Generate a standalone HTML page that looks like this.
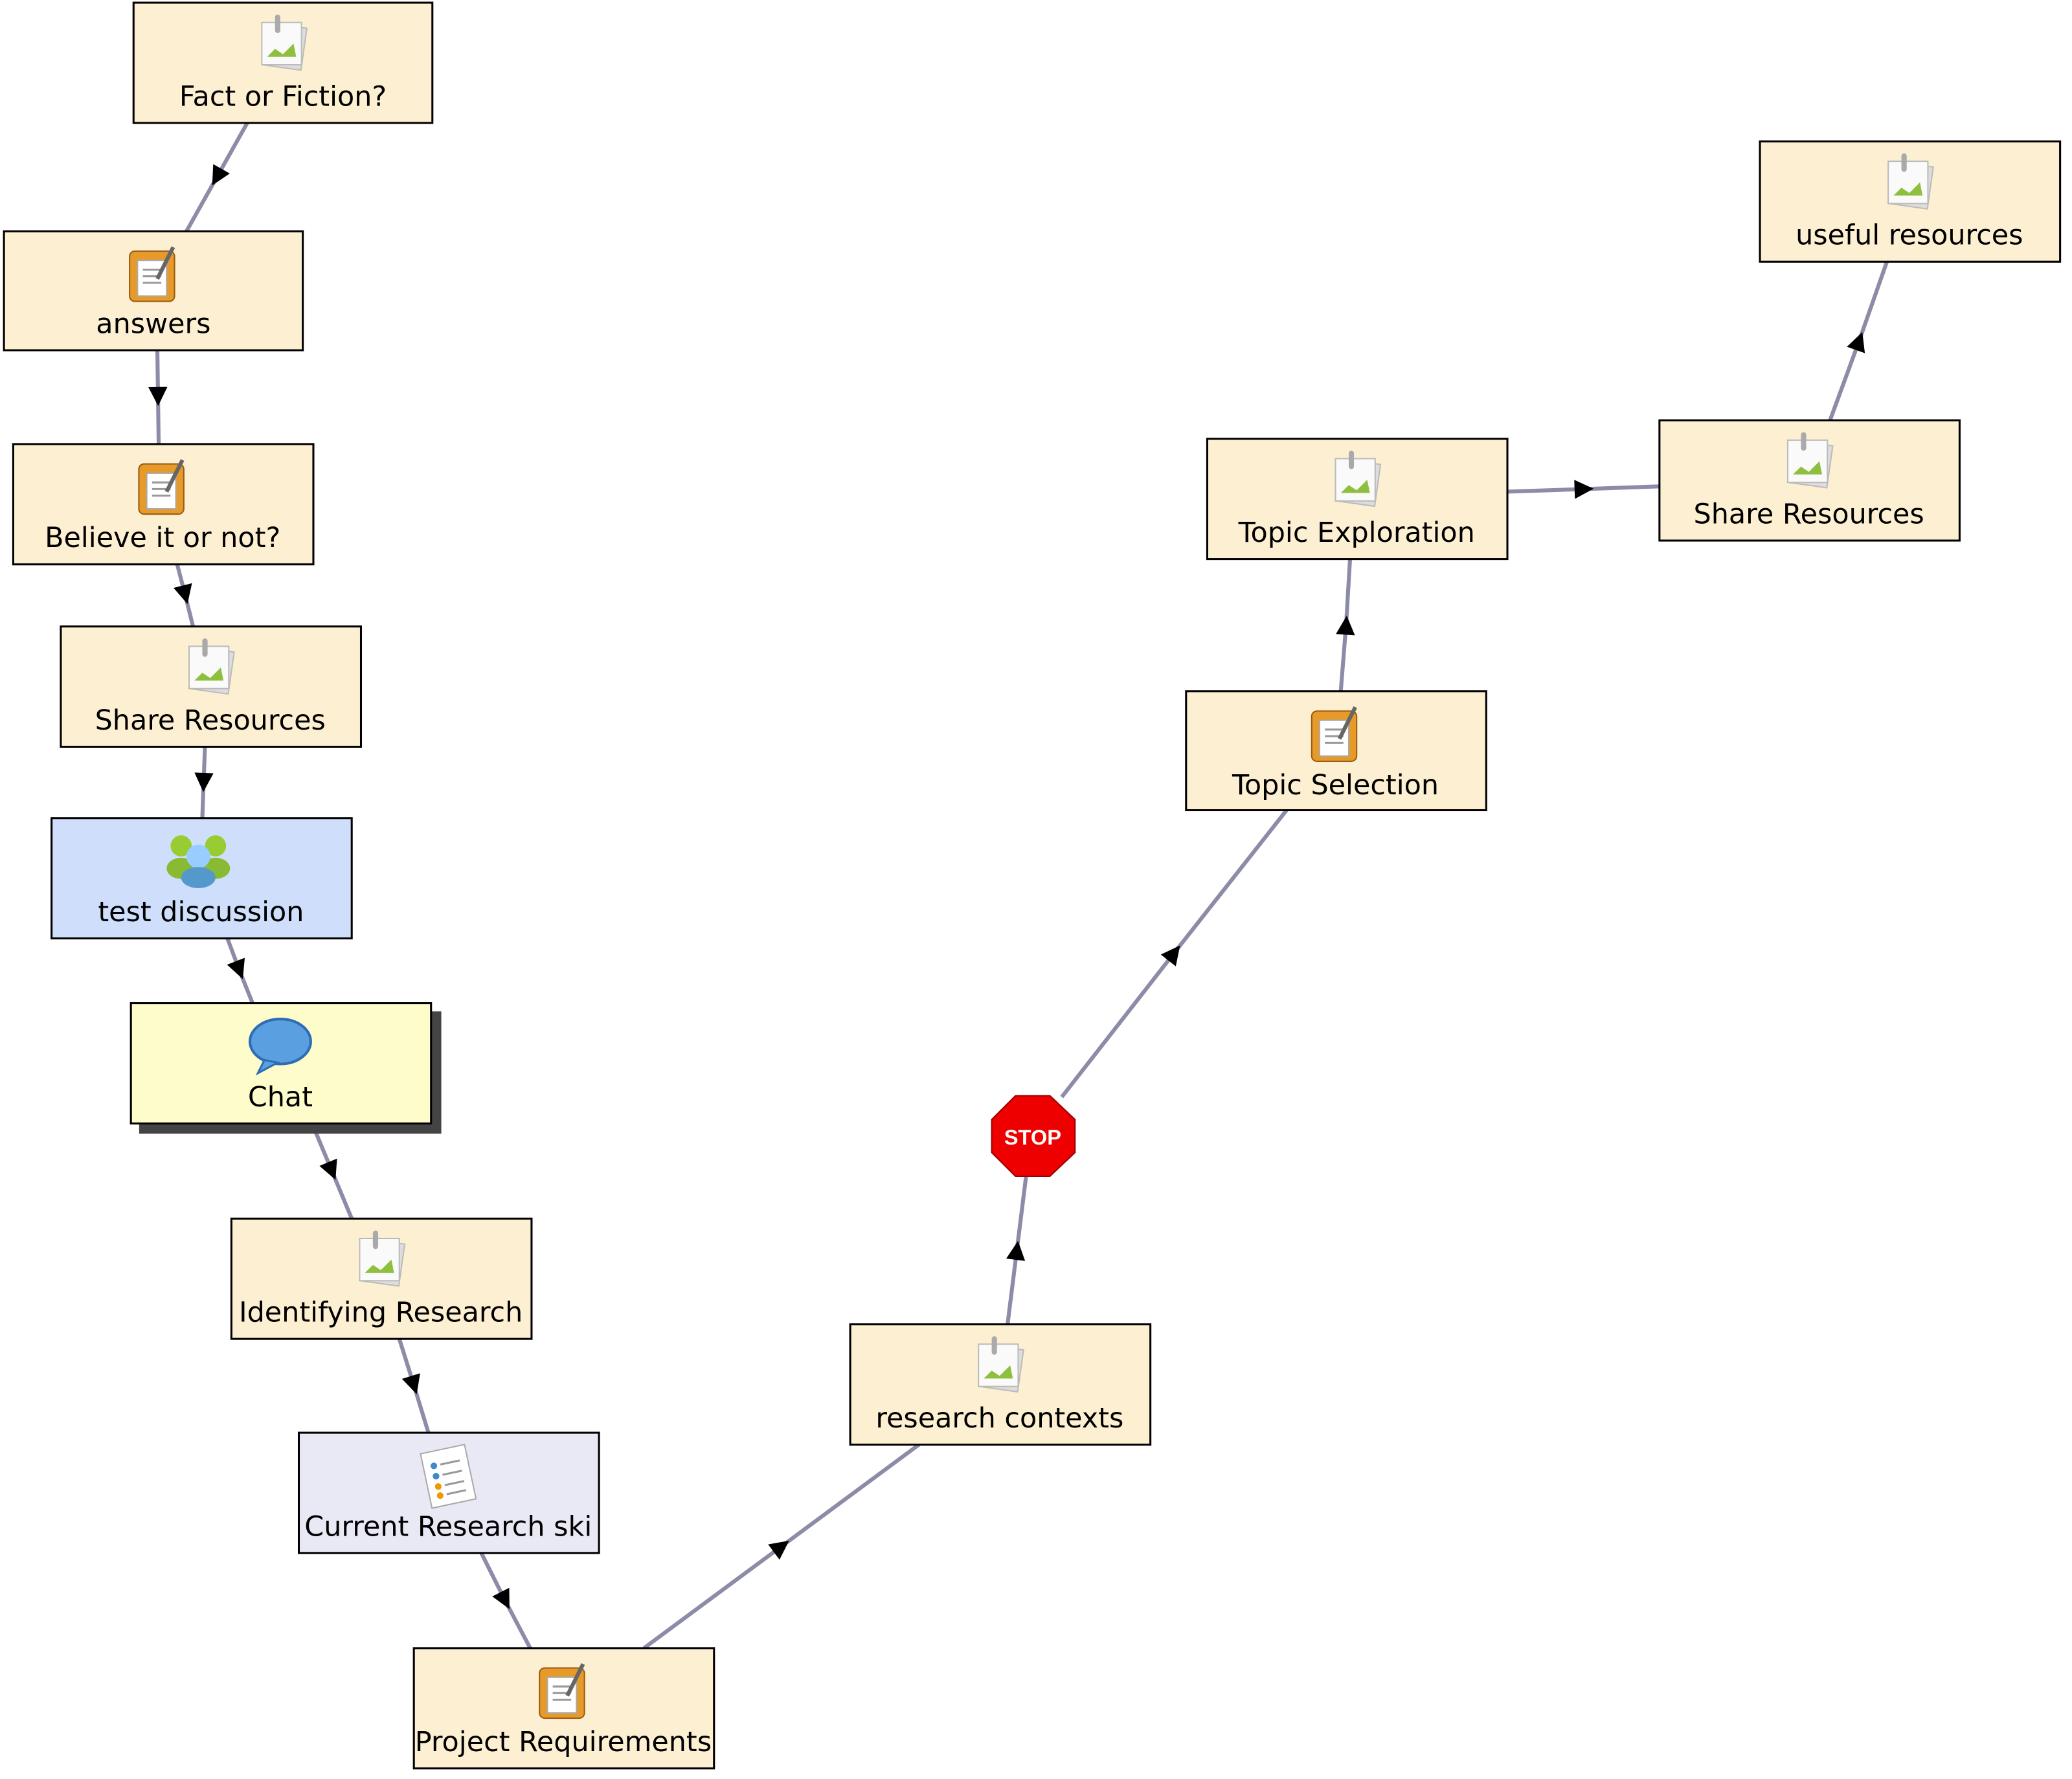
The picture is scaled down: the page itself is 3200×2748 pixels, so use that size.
<!DOCTYPE html>
<html><head><meta charset="utf-8"><style>
html,body{margin:0;padding:0;background:#fff;width:3200px;height:2748px;overflow:hidden}
svg{display:block}
text{font-family:"DejaVu Sans","Liberation Sans",sans-serif;font-size:21px;fill:#000;text-anchor:middle}
</style></head><body>
<svg width="3200" height="2748" viewBox="0 0 1567 1346" preserveAspectRatio="none" xmlns="http://www.w3.org/2000/svg">
<defs>
<marker id="ar" viewBox="0 0 20 20" refX="10" refY="10" markerWidth="18" markerHeight="18" markerUnits="userSpaceOnUse" orient="auto">
<path d="M2,2 L18,10 L2,18 Z" fill="#000"/>
</marker>
<g id="img">
<rect x="-14" y="-16" width="30" height="32" fill="#ddd" stroke="#bbb" transform="rotate(8)"/>
<rect x="-16" y="-18" width="30" height="32" fill="#fafafa" stroke="#bbb"/>
<path d="M-12,8 L-6,2 L0,6 L8,-2 L10,8 Z" fill="#8fbf3f"/>
<rect x="-6" y="-24" width="4" height="14" rx="2" fill="#aaa"/>
</g>
<g id="note">
<rect x="-17" y="-19" width="34" height="38" rx="4" fill="#e59a2a" stroke="#9a5a10"/>
<rect x="-11" y="-12" width="22" height="27" fill="#fff" stroke="#aaa"/>
<path d="M-7,-5 H7 M-7,0 H7 M-7,5 H7" stroke="#999" stroke-width="1.5"/>
<path d="M4,2 L16,-22" stroke="#666" stroke-width="3"/>
</g>
</defs>
<g fill="none" stroke="#8c8ca8" stroke-width="3" marker-mid="url(#ar)">
<path d="M187,93 L164,134 L141,175"/>
<path d="M119,265 L119.5,300 L120,336"/>
<path d="M134,427 L140,450 L146,474"/>
<path d="M155,565 L154,592 L153,619"/>
<path d="M172,710 L181,734 L191,759"/>
<path d="M236,850 L251,886 L266,922"/>
<path d="M302,1013 L313,1048 L324,1084"/>
<path d="M364,1175 L382,1211 L401,1247"/>
<path d="M487,1247 L591,1170 L695,1093"/>
<path d="M762,1002 L769,946 L776,890"/>
<path d="M803,830 L888,721 L973,613"/>
<path d="M1014,523 L1018,473 L1021,423"/>
<path d="M1140,372 L1198,370 L1255,368"/>
<path d="M1384,318 L1406,258 L1427,198"/>
</g>
<g stroke="#000" stroke-width="1.5">
<rect x="101" y="2" width="226" height="91" fill="#fdf0d2"/>
<rect x="3" y="175" width="226" height="90" fill="#fdf0d2"/>
<rect x="10" y="336" width="227" height="91" fill="#fdf0d2"/>
<rect x="46" y="474" width="227" height="91" fill="#fdf0d2"/>
<rect x="39" y="619" width="227" height="91" fill="#cfdffb"/>
<rect x="106" y="766" width="227" height="91" fill="#444" stroke="#444"/>
<rect x="99" y="759" width="227" height="91" fill="#fffccc"/>
<rect x="175" y="922" width="227" height="91" fill="#fdf0d2"/>
<rect x="226" y="1084" width="227" height="91" fill="#e9e8f5"/>
<rect x="313" y="1247" width="227" height="91" fill="#fdf0d2"/>
<rect x="643" y="1002" width="227" height="91" fill="#fdf0d2"/>
<rect x="897" y="523" width="227" height="90" fill="#fdf0d2"/>
<rect x="913" y="332" width="227" height="91" fill="#fdf0d2"/>
<rect x="1255" y="318" width="227" height="91" fill="#fdf0d2"/>
<rect x="1331" y="107" width="227" height="91" fill="#fdf0d2"/>
</g>
<use href="#img" x="214" y="35"/>
<use href="#note" x="115" y="209"/>
<use href="#note" x="122" y="370"/>
<use href="#img" x="159" y="507"/>
<use href="#img" x="288" y="955"/>
<use href="#note" x="425" y="1281"/>
<use href="#img" x="756" y="1035"/>
<use href="#note" x="1009" y="557"/>
<use href="#img" x="1026" y="365"/>
<use href="#img" x="1368" y="351"/>
<use href="#img" x="1444" y="140"/>
<g>
<circle cx="137" cy="640" r="8" fill="#9c3"/><circle cx="163" cy="640" r="8" fill="#9c3"/>
<ellipse cx="137" cy="657" rx="11" ry="8" fill="#8b3"/><ellipse cx="163" cy="657" rx="11" ry="8" fill="#8b3"/>
<circle cx="150" cy="648" r="9" fill="#9cf"/><ellipse cx="150" cy="664" rx="13" ry="8" fill="#59c"/>
</g>
<ellipse cx="212" cy="788" rx="23" ry="17" fill="#5a9fe0" stroke="#2c6db5" stroke-width="2"/>
<path d="M200,802 L195,812 L210,804 Z" fill="#5a9fe0" stroke="#2c6db5" stroke-width="1.5"/>
<g transform="translate(339,1117) rotate(-12)">
<rect x="-17" y="-21" width="34" height="42" fill="#fff" stroke="#aaa"/>
<circle cx="-9" cy="-10" r="2.5" fill="#48c"/><circle cx="-9" cy="-2" r="2.5" fill="#48c"/><circle cx="-9" cy="6" r="2.5" fill="#e90"/><circle cx="-9" cy="13" r="2.5" fill="#e90"/>
<path d="M-4,-10 H11 M-4,-2 H11 M-4,6 H11 M-4,13 H11" stroke="#999" stroke-width="1.5"/>
</g>
<polygon points="768,829 794,829 813,847 813,872 794,890 768,890 750,872 750,847" fill="#e00" stroke="#900" stroke-width="1"/>
<text x="781" y="866" style="font-size:16px;font-weight:bold;fill:#fff;font-family:'Liberation Sans',sans-serif">STOP</text>
<text x="214" y="80">Fact or Fiction?</text>
<text x="116" y="252">answers</text>
<text x="123" y="414">Believe it or not?</text>
<text x="159" y="552">Share Resources</text>
<text x="152" y="697">test discussion</text>
<text x="212" y="837">Chat</text>
<text x="288" y="1000">Identifying Research</text>
<text x="339" y="1162">Current Research ski</text>
<text x="426" y="1325">Project Requirements</text>
<text x="756" y="1080">research contexts</text>
<text x="1010" y="601">Topic Selection</text>
<text x="1026" y="410">Topic Exploration</text>
<text x="1368" y="396">Share Resources</text>
<text x="1444" y="185">useful resources</text>
</svg>
</body></html>
